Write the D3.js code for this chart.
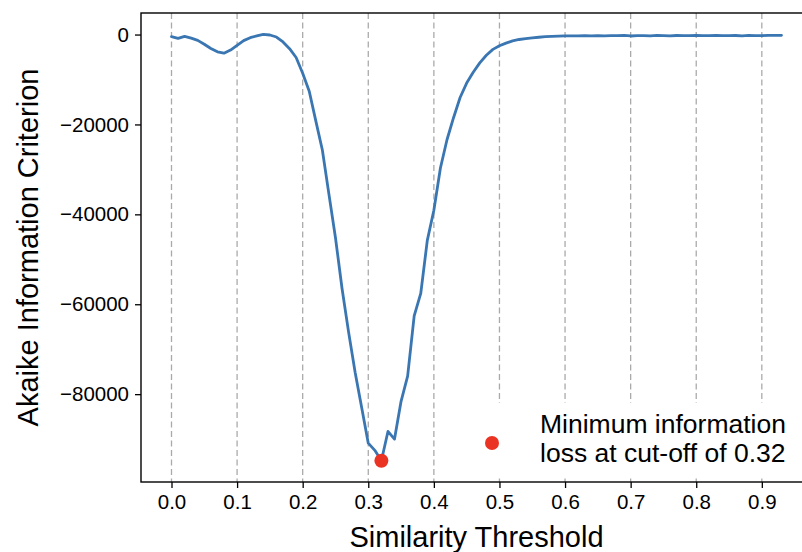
<!DOCTYPE html>
<html>
<head>
<meta charset="utf-8">
<script src="https://cdn.jsdelivr.net/npm/d3@7"></script>
<style>
  body { margin: 0; background: #fff; }
  svg { display: block; font-family: "Liberation Sans", Arial, sans-serif; }
</style>
</head>
<body>
<div id="chart"></div>
<script>
// similarity thresholds (x) and AIC values (y)
const thresholds = [
  0.00, 0.01, 0.02, 0.03, 0.04, 0.05, 0.06, 0.07, 0.08, 0.09,
  0.10, 0.11, 0.12, 0.13, 0.14, 0.15, 0.16, 0.17, 0.18, 0.19,
  0.20, 0.21, 0.22, 0.23, 0.24, 0.25, 0.26, 0.27, 0.28, 0.29,
  0.30, 0.31, 0.32, 0.33, 0.34, 0.35, 0.36, 0.37, 0.38, 0.39,
  0.40, 0.41, 0.42, 0.43, 0.44, 0.45, 0.46, 0.47, 0.48, 0.49,
  0.50, 0.51, 0.52, 0.53, 0.54, 0.55, 0.56, 0.57, 0.58, 0.59,
  0.60, 0.61, 0.62, 0.63, 0.64, 0.65, 0.66, 0.67, 0.68, 0.69,
  0.70, 0.71, 0.72, 0.73, 0.74, 0.75, 0.76, 0.77, 0.78, 0.79,
  0.80, 0.81, 0.82, 0.83, 0.84, 0.85, 0.86, 0.87, 0.88, 0.89,
  0.90, 0.91, 0.92, 0.93
];
const aic = [
  -450, -850, -400, -800, -1300, -2150, -3100, -3850, -4150, -3450,
  -2400, -1350, -700, -300, 50, -100, -550, -1650, -3150, -5100,
  -8600, -12600, -19200, -25700, -35500, -45200, -56500, -66200, -75200, -83000,
  -90900, -92500, -94800, -88300, -90000, -81600, -76000, -62600, -57600, -45800,
  -39100, -29700, -23400, -18500, -14000, -10800, -8400, -6300, -4600, -3300,
  -2500, -1900, -1400, -1100, -900, -750, -600, -480, -400, -350,
  -300, -300, -280, -250, -280, -220, -300, -260, -220, -180,
  -320, -250, -220, -290, -180, -240, -300, -210, -250, -230,
  -200, -240, -220, -200, -230, -250, -210, -280, -200, -220,
  -230, -190, -200, -180
];
const xTicks = [0.0, 0.1, 0.2, 0.3, 0.4, 0.5, 0.6, 0.7, 0.8, 0.9];
const yTicks = [0, -20000, -40000, -60000, -80000];
const legendLines = ['Minimum information', 'loss at cut-off of 0.32'];

const width = 802;
const height = 552;
const area = { left: 141, top: 13, right: 812, bottom: 482 };

const data = thresholds.map((t, i) => ({ t, v: aic[i] }));
const best = data[d3.minIndex(data, d => d.v)];

// matplotlib-like 5% padding
function padded([a, b]) {
  const r = b - a;
  return [a - r * 0.05, b + r * 0.05];
}

const xScale = d3.scaleLinear()
  .domain(padded(d3.extent(thresholds)))
  .range([area.left, area.right]);

const yScale = d3.scaleLinear()
  .domain(padded(d3.extent(aic)))
  .range([area.bottom, area.top]);

const svg = d3.select('#chart')
  .append('svg')
  .attr('width', width)
  .attr('height', height);

// dashed vertical grid
svg.append('g')
  .selectAll('line')
  .data(xTicks)
  .join('line')
  .attr('x1', d => xScale(d))
  .attr('x2', d => xScale(d))
  .attr('y1', area.top)
  .attr('y2', area.bottom)
  .attr('stroke', '#aaaaaa')
  .attr('stroke-width', 1.3)
  .attr('stroke-dasharray', '6,3.5');

// the curve
const line = d3.line()
  .x(d => xScale(d.t))
  .y(d => yScale(d.v));

svg.append('path')
  .datum(data)
  .attr('d', line)
  .attr('fill', 'none')
  .attr('stroke', '#3a76b2')
  .attr('stroke-width', 2.8)
  .attr('stroke-linejoin', 'round')
  .attr('stroke-linecap', 'round');

// minimum point
svg.append('circle')
  .attr('cx', xScale(best.t))
  .attr('cy', yScale(best.v))
  .attr('r', 7)
  .attr('fill', '#ea3323');

// legend (white box, no frame)
const legend = svg.append('g');
legend.append('rect')
  .attr('x', 466)
  .attr('y', 403)
  .attr('width', 350)
  .attr('height', 73)
  .attr('fill', '#fff');
legend.append('circle')
  .attr('cx', 492)
  .attr('cy', 443)
  .attr('r', 7)
  .attr('fill', '#ea3323');
legend.selectAll('text')
  .data(legendLines)
  .join('text')
  .attr('x', 540)
  .attr('y', (d, i) => 433 + i * 29)
  .attr('font-size', 26.5)
  .attr('fill', '#000')
  .text(d => d);

// axes
const xAxis = d3.axisBottom(xScale)
  .tickValues(xTicks)
  .tickFormat(d3.format('.1f'))
  .tickSize(6)
  .tickPadding(6);
const yAxis = d3.axisLeft(yScale)
  .tickValues(yTicks)
  .tickFormat(d3.format('d'))
  .tickSize(6)
  .tickPadding(6);

const gx = svg.append('g')
  .attr('transform', `translate(0, ${area.bottom})`)
  .call(xAxis);
const gy = svg.append('g')
  .attr('transform', `translate(${area.left}, 0)`)
  .call(yAxis);

[gx, gy].forEach(g => {
  g.select('.domain').remove();
  g.selectAll('.tick line').attr('stroke', '#000').attr('stroke-width', 1.3);
  g.selectAll('.tick text')
    .attr('font-family', '"Liberation Sans", Arial, sans-serif')
    .attr('font-size', 20.5)
    .attr('fill', '#000');
});

// frame
svg.append('rect')
  .attr('x', area.left)
  .attr('y', area.top)
  .attr('width', area.right - area.left)
  .attr('height', area.bottom - area.top)
  .attr('fill', 'none')
  .attr('stroke', '#000')
  .attr('stroke-width', 1.4);

// axis titles
svg.append('text')
  .attr('x', (area.left + area.right) / 2)
  .attr('y', 547)
  .attr('text-anchor', 'middle')
  .attr('font-size', 29)
  .text('Similarity Threshold');

svg.append('text')
  .attr('transform', `translate(38, ${(area.top + area.bottom) / 2}) rotate(-90)`)
  .attr('text-anchor', 'middle')
  .attr('font-size', 29)
  .text('Akaike Information Criterion');
</script>
</body>
</html>
